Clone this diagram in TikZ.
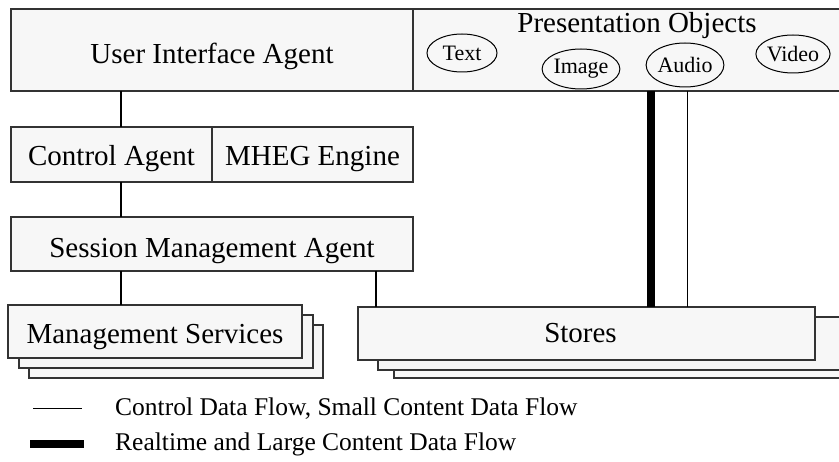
\documentclass[tikz,border=0pt]{standalone}
\usepackage{fontspec}
\setmainfont{Liberation Serif}
\usetikzlibrary{shapes.geometric}
\definecolor{boxfill}{HTML}{F7F7F7}
\definecolor{boxline}{HTML}{333333}
\tikzset{
  mainfont/.style={font=\fontsize{29}{34}\selectfont},
  smallfont/.style={font=\fontsize{22}{26}\selectfont},
  legendfont/.style={font=\fontsize{25.5}{30}\selectfont},
  box/.style={rectangle, draw=boxline, fill=boxfill, line width=1.3pt,
    inner sep=0pt, outer sep=0pt, anchor=north west, mainfont},
  % places the text baseline #1/2 below the node centre
  basefix/.style={text height=#1, text depth=0pt},
  medium/.style={ellipse, draw=black, fill=boxfill, line width=1pt,
    inner sep=0pt, smallfont},
  conn/.style={draw=black, line width=1.6pt},
  thinflow/.style={draw=black, line width=1pt},
  thickflow/.style={draw=black, line width=8pt},
}
\begin{document}
\begin{tikzpicture}[x=1pt,y=-1pt]
\clip (0,0) rectangle (839,462);
\fill[white] (0,0) rectangle (839,462);

% top row
\node[box, basefix=27pt, minimum width=402pt, minimum height=82pt] (uia) at (11,9) {User Interface Agent};
\node[box, minimum width=440pt, minimum height=82pt] (pres) at (413,9) {};
\node[mainfont, anchor=base] (prestitle) at (637,33) {Presentation Objects};
\node[medium, minimum width=70pt, minimum height=38pt] (text) at (462,53) {Text};
\node[medium, minimum width=67pt, minimum height=40pt] (image) at (581,69) {Image};
\node[medium, minimum width=68pt, minimum height=44pt] (audio) at (685,65) {Audio};
\node[medium, minimum width=70pt, minimum height=38pt] (video) at (793,54) {Video};

% control layer
\node[box, basefix=23pt, minimum width=201pt, minimum height=55pt] (ctrl) at (11,127) {Control Agent};
\node[box, basefix=23pt, minimum width=201pt, minimum height=55pt] (mheg) at (212,127) {MHEG Engine};

% session layer
\node[box, basefix=27pt, minimum width=402pt, minimum height=54pt] (sma) at (11,217) {Session Management Agent};

% management services (stacked)
\node[box, minimum width=294pt, minimum height=53pt] (ms3) at (29,325) {};
\node[box, minimum width=294pt, minimum height=53pt] (ms2) at (19,315) {};
\node[box, basefix=24pt, minimum width=294pt, minimum height=53pt] (ms) at (8,305) {Management Services};

% stores (stacked)
\node[box, minimum width=480pt, minimum height=53pt] (st3) at (394,325) {};
\node[box, minimum width=480pt, minimum height=53pt] (st2) at (378,317) {};
\node[box, basefix=18pt, minimum width=457pt, minimum height=53pt] (st) at (358,307) {\hspace*{-12pt}Stores};

% connectors
\coordinate (xa) at (121,0);
\coordinate (xb) at (376,0);
\coordinate (xc) at (651,0);
\coordinate (xd) at (687,0);
\draw[conn] (uia.south -| xa) -- (ctrl.north -| xa);
\draw[conn] (ctrl.south -| xa) -- (sma.north -| xa);
\draw[conn] (sma.south -| xa) -- (ms.north -| xa);
\draw[conn] (sma.south -| xb) -- (st.north -| xb);
\draw[thickflow] (pres.south -| xc) -- (st.north -| xc);
\draw[thinflow] (pres.south -| xd) -- (st.north -| xd);

% legend
\coordinate (la) at (33,409);
\coordinate (lb) at (82,409);
\coordinate (lc) at (30,444);
\coordinate (ld) at (84,444);
\draw[thinflow] (la) -- (lb);
\draw[thickflow] (lc) -- (ld);
\node[legendfont, anchor=west, inner sep=0pt] (lt1) at (115,409) {Control Data Flow, Small Content Data Flow};
\node[legendfont, anchor=west, inner sep=0pt] (lt2) at (115,444) {Realtime and Large Content Data Flow};
\end{tikzpicture}
\end{document}
